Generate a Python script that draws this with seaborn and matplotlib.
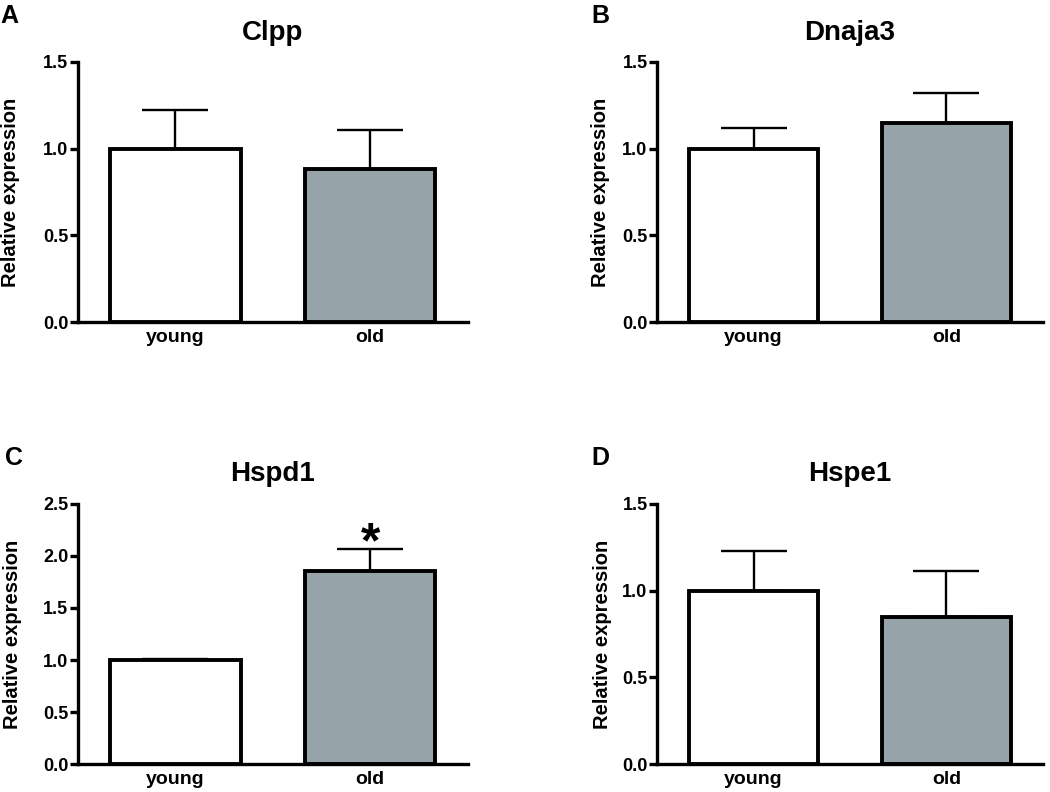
import numpy as np
import pandas as pd
import seaborn as sns
import matplotlib
matplotlib.use("Agg")
import matplotlib.pyplot as plt

groups = ["young", "old"]
genes = ["Clpp", "Dnaja3", "Hspd1", "Hspe1"]
letters = ["A", "B", "C", "D"]
clpp_mean = [1.00, 0.88]
clpp_sem = [0.22, 0.23]
dnaja3_mean = [1.00, 1.15]
dnaja3_sem = [0.12, 0.17]
hspd1_mean = [1.00, 1.85]
hspd1_sem = [0.01, 0.22]
hspe1_mean = [1.00, 0.85]
hspe1_sem = [0.23, 0.26]
ymax = [1.5, 1.5, 2.5, 1.5]
colors = {"young": "white", "old": "#93a4ac"}

means = [clpp_mean, dnaja3_mean, hspd1_mean, hspe1_mean]
sems = [clpp_sem, dnaja3_sem, hspd1_sem, hspe1_sem]

sns.set_style("ticks")
plt.rcParams["font.family"] = ["Liberation Sans", "DejaVu Sans"]
plt.rcParams["font.weight"] = "bold"
for k in ["text.color", "axes.labelcolor", "xtick.color", "ytick.color", "axes.edgecolor"]:
    plt.rcParams[k] = "black"

fig = plt.figure(figsize=(10.5, 7.92), dpi=100)
# axes boxes [left, bottom, width, height]
boxes = [[0.0743, 0.593, 0.371, 0.329],
         [0.626, 0.593, 0.367, 0.329],
         [0.0743, 0.035, 0.371, 0.329],
         [0.626, 0.035, 0.367, 0.329]]
label_x = [-0.148, -0.122, -0.144, -0.117]
letter_pos = [(0.0, 0.995), (0.563, 0.995), (0.005, 0.437), (0.563, 0.437)]

for i in range(4):
    ax = fig.add_axes(boxes[i])
    df = pd.DataFrame({"group": groups, "value": means[i]})
    sns.barplot(data=df, x="group", y="value", hue="group", palette=colors,
                order=groups, width=0.67, edgecolor="black", linewidth=2.8,
                legend=False, ax=ax, zorder=3)
    xs = [p.get_x() + p.get_width() / 2 for p in ax.patches]
    ax.errorbar(xs, means[i], yerr=[[0, 0], sems[i]], fmt="none",
                ecolor="black", elinewidth=1.7, capsize=24, capthick=1.7, zorder=2)
    ax.set_xlim(-0.5, 1.5)
    ax.set_ylim(0, ymax[i])
    ticks = np.arange(0, ymax[i] + 0.01, 0.5)
    ax.set_yticks(ticks)
    ax.set_yticklabels([f"{t:.1f}" for t in ticks])
    ax.set_xlabel("")
    ax.set_ylabel("Relative expression", fontsize=14.5, fontweight="bold")
    ax.yaxis.set_label_coords(label_x[i], 0.5)
    ax.set_title(genes[i], fontsize=20, fontweight="bold", pad=16)
    sns.despine(ax=ax)
    for s in ["left", "bottom"]:
        ax.spines[s].set_linewidth(2.4)
    ax.tick_params(axis="y", length=6, width=2.4, pad=1, labelsize=13)
    ax.tick_params(axis="x", length=0, pad=5, labelsize=14)
    for lab in ax.get_xticklabels() + ax.get_yticklabels():
        lab.set_fontweight("bold")
    if genes[i] == "Hspd1":
        ax.text(xs[1], means[i][1] + sems[i][1] - 0.08, "*", ha="center",
                va="baseline", fontsize=36, fontweight="bold")
    fig.text(letter_pos[i][0], letter_pos[i][1], letters[i], ha="left", va="top",
             fontsize=18, fontweight="bold")

fig.savefig("out.png", dpi=100)
